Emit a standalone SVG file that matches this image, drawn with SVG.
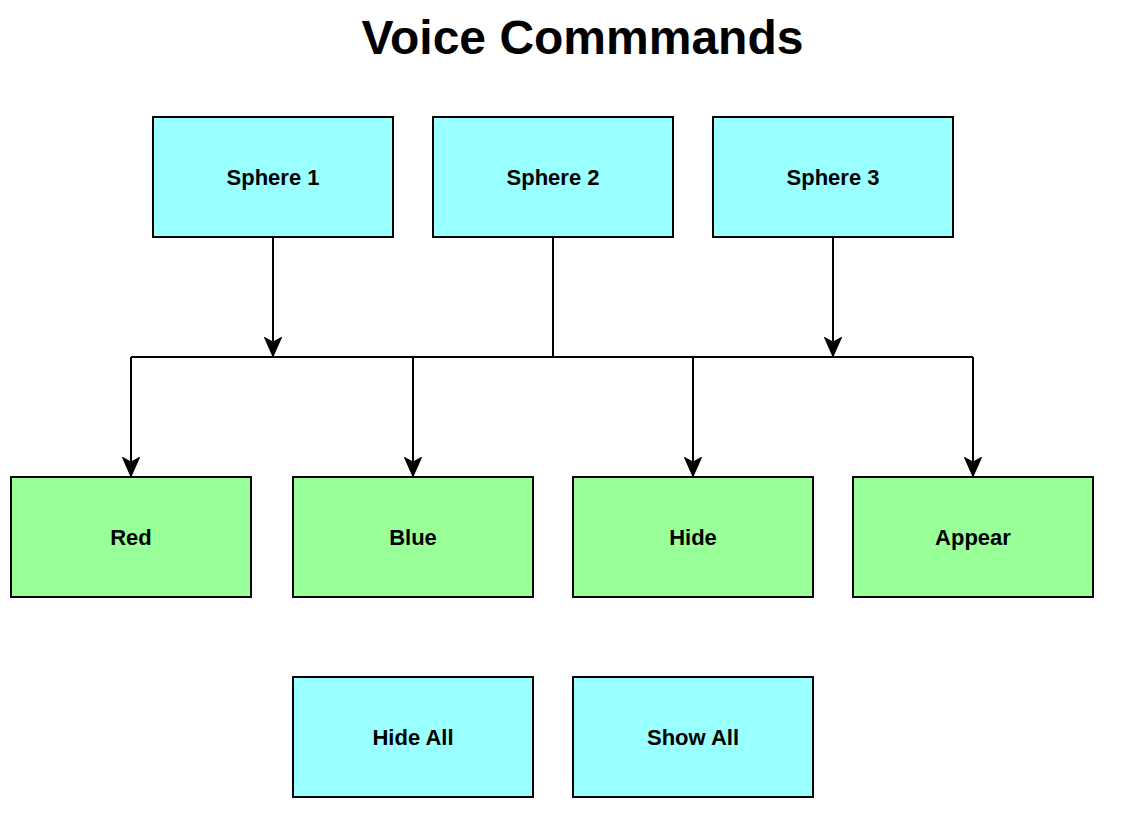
<svg xmlns="http://www.w3.org/2000/svg" width="1124" height="830" viewBox="0 0 1124 830">
<style>
.box{stroke:#000;stroke-width:2}
.cyan{fill:#99FFFF}
.green{fill:#99FF99}
.lbl{font-family:"Liberation Sans",Arial,sans-serif;font-weight:bold;font-size:22px;text-anchor:middle;fill:#000}
.title{font-family:"Liberation Sans",Arial,sans-serif;font-weight:bold;font-size:48px;text-anchor:middle;fill:#000}
.edge{fill:none;stroke:#000;stroke-width:2}
</style>
<defs>
<marker id="arr" viewBox="0 0 20 18" refX="19" refY="9" markerWidth="20" markerHeight="18" markerUnits="userSpaceOnUse" orient="auto">
<path d="M19,9 L1,1 L5.5,9 L1,17 Z" fill="#000" stroke="#000" stroke-width="1.5" stroke-linejoin="miter"/>
</marker>
</defs>
<rect width="1124" height="830" fill="#fff"/>
<text class="title" x="582.5" y="54">Voice Commmands</text>
<g id="connectors">
<path class="edge" d="M273,237 V356" marker-end="url(#arr)"/>
<path class="edge" d="M833,237 V356" marker-end="url(#arr)"/>
<path class="edge" d="M553,237 V357"/>
<path class="edge" d="M131,357 H973"/>
<path class="edge" d="M131,357 V476" marker-end="url(#arr)"/>
<path class="edge" d="M413,357 V476" marker-end="url(#arr)"/>
<path class="edge" d="M693,357 V476" marker-end="url(#arr)"/>
<path class="edge" d="M973,357 V476" marker-end="url(#arr)"/>
</g>
<g id="sphere1"><rect class="box cyan" x="153" y="117" width="240" height="120"/><text class="lbl" x="273" y="185">Sphere 1</text></g>
<g id="sphere2"><rect class="box cyan" x="433" y="117" width="240" height="120"/><text class="lbl" x="553" y="185">Sphere 2</text></g>
<g id="sphere3"><rect class="box cyan" x="713" y="117" width="240" height="120"/><text class="lbl" x="833" y="185">Sphere 3</text></g>
<g id="red"><rect class="box green" x="11" y="477" width="240" height="120"/><text class="lbl" x="131" y="545">Red</text></g>
<g id="blue"><rect class="box green" x="293" y="477" width="240" height="120"/><text class="lbl" x="413" y="545">Blue</text></g>
<g id="hide"><rect class="box green" x="573" y="477" width="240" height="120"/><text class="lbl" x="693" y="545">Hide</text></g>
<g id="appear"><rect class="box green" x="853" y="477" width="240" height="120"/><text class="lbl" x="973" y="545">Appear</text></g>
<g id="hideall"><rect class="box cyan" x="293" y="677" width="240" height="120"/><text class="lbl" x="413" y="745">Hide All</text></g>
<g id="showall"><rect class="box cyan" x="573" y="677" width="240" height="120"/><text class="lbl" x="693" y="745">Show All</text></g>
</svg>
